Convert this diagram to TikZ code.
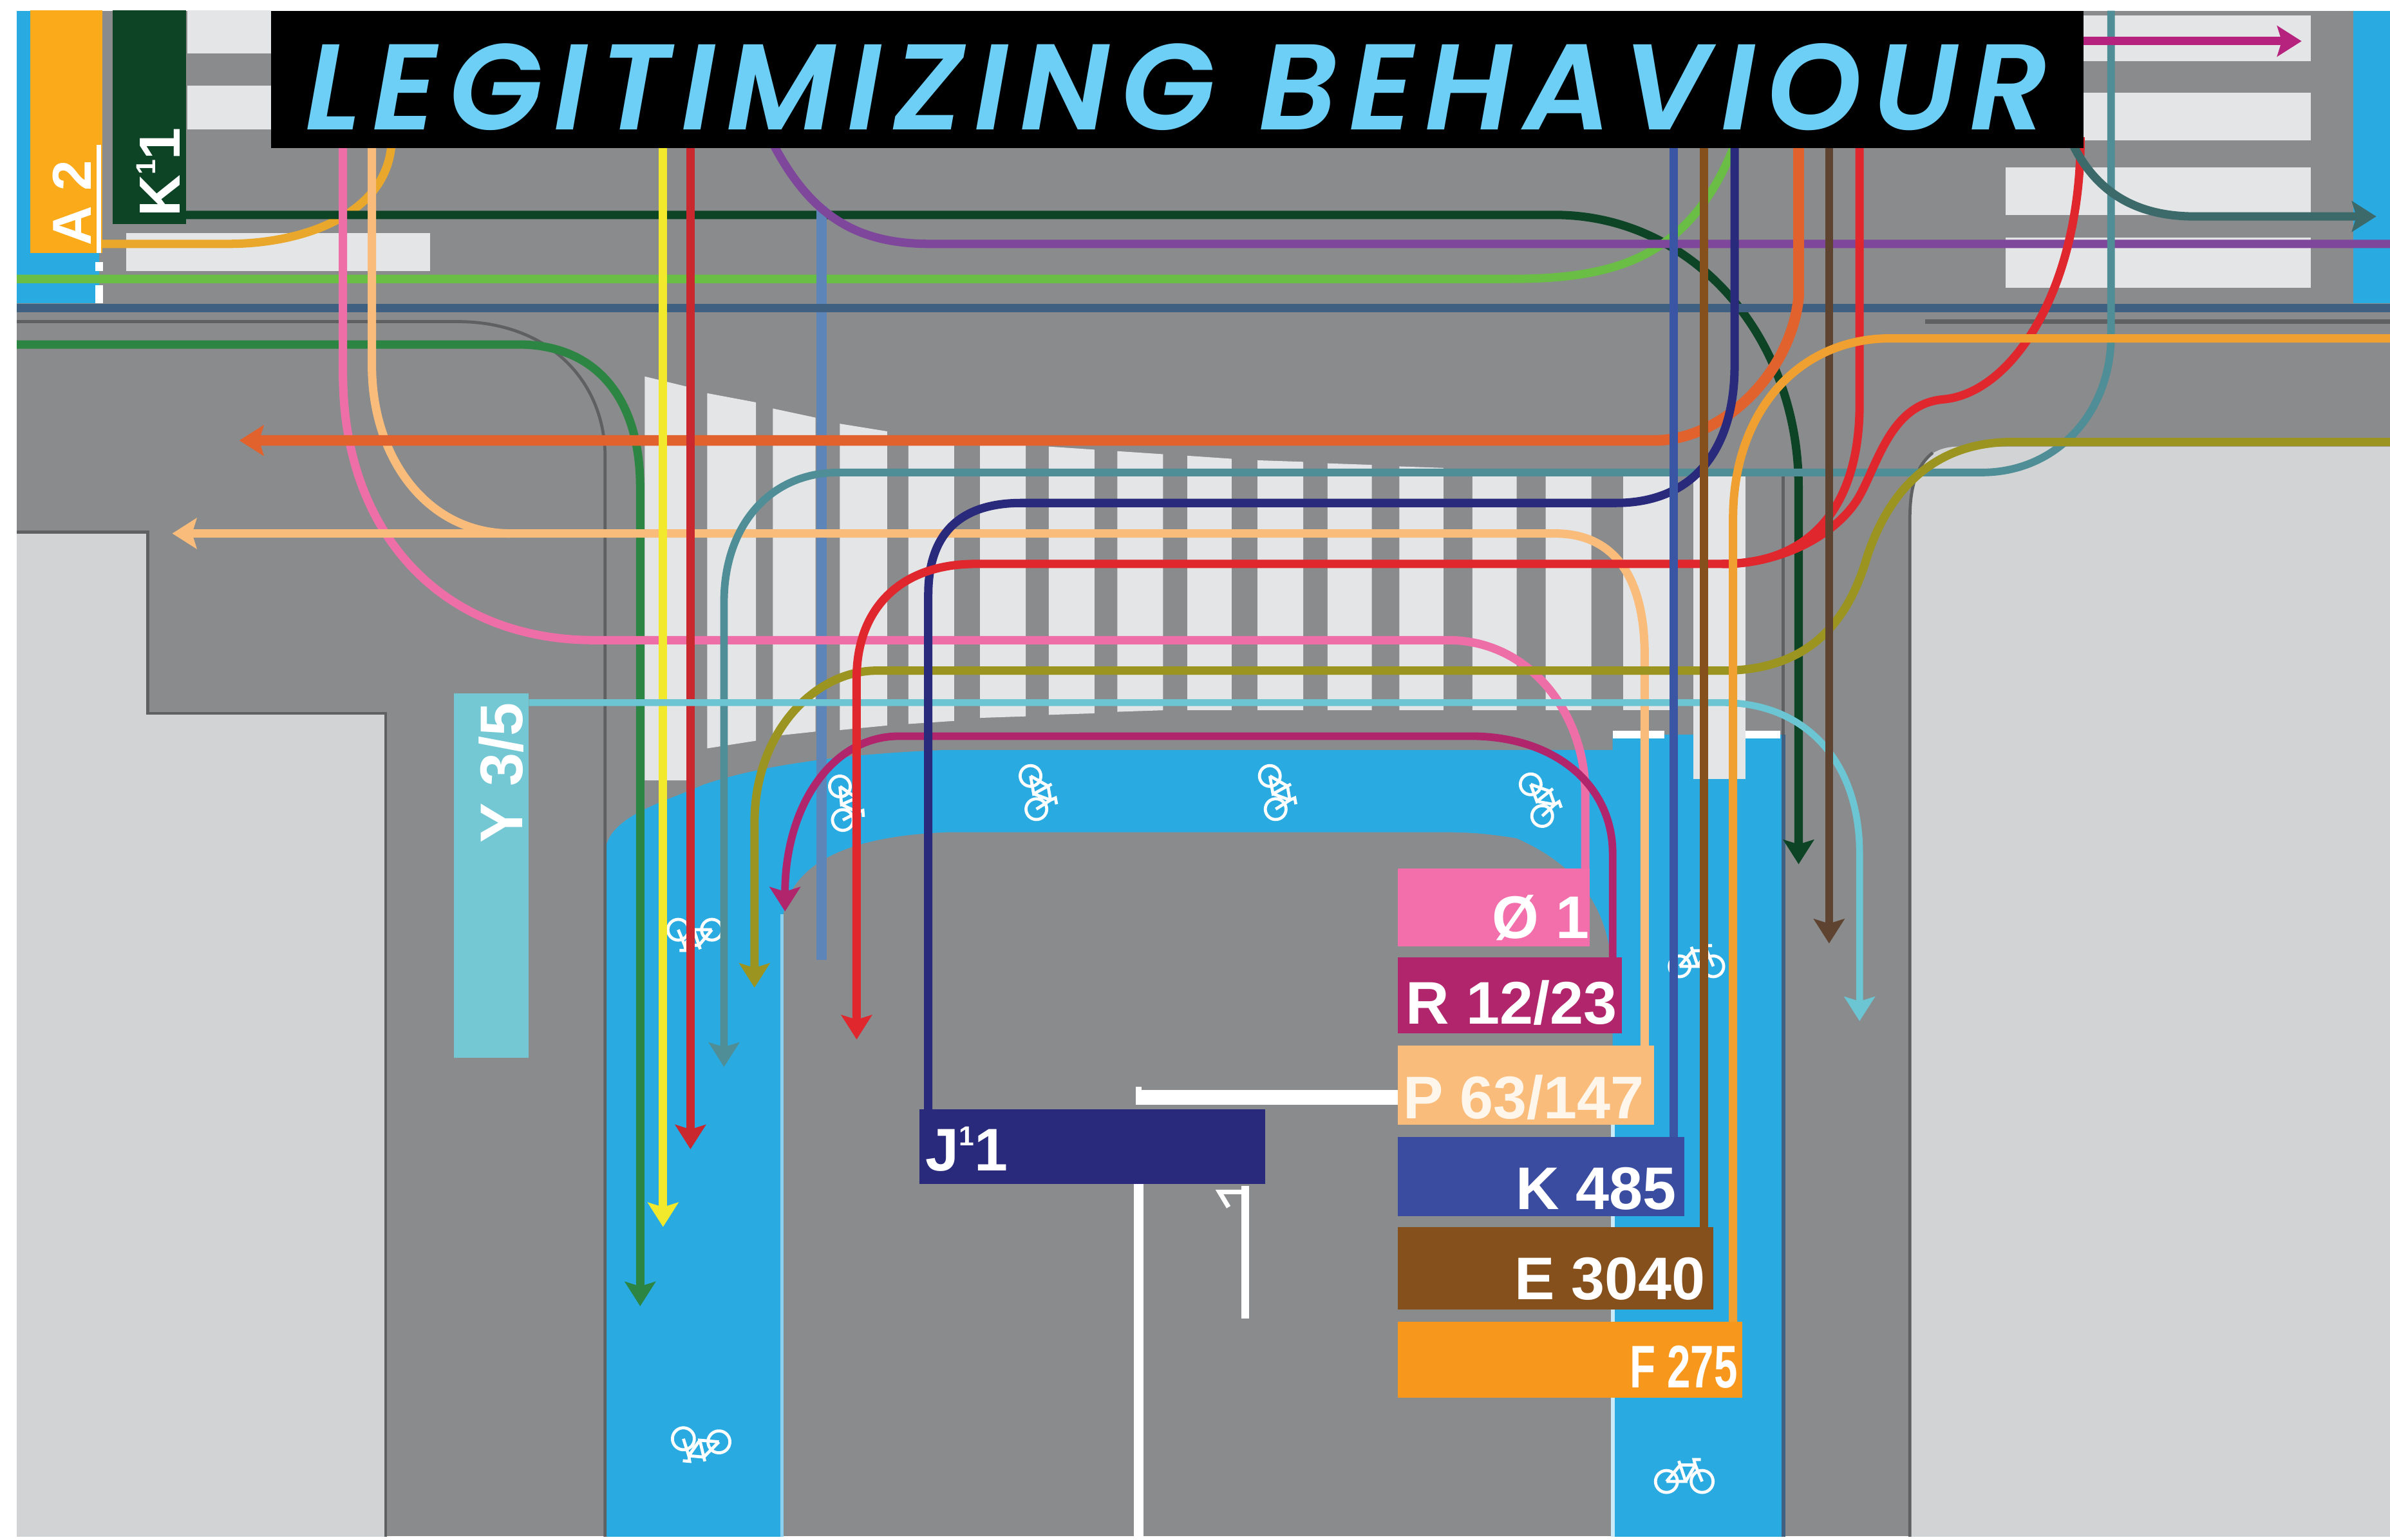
\documentclass[tikz,border=0pt]{standalone}
\usepackage{fontspec}
\setmainfont{Liberation Sans}
\newfontfamily\titlefont[LetterSpace=9.4]{Poppins SemiBold Italic}
\usetikzlibrary{arrows.meta}
\definecolor{roadgray}{HTML}{898B8D}
\definecolor{blockgray}{HTML}{D1D3D4}
\definecolor{stripe}{HTML}{E4E5E7}
\definecolor{lane}{HTML}{29ABE2}
\definecolor{edge}{HTML}{5F6062}
\definecolor{cpink}{HTML}{EE6FA8}
\definecolor{cmag}{HTML}{B0256B}
\definecolor{ctan}{HTML}{F9BC7A}
\definecolor{cblue}{HTML}{3A55A4}
\definecolor{cbrown}{HTML}{85501C}
\definecolor{corange}{HTML}{F0A030}
\definecolor{cnavy}{HTML}{2A2A7C}
\definecolor{cdark}{HTML}{0D4426}
\definecolor{cgold}{HTML}{E9A82C}
\definecolor{clime}{HTML}{6ABD45}
\definecolor{csteel}{HTML}{3F6080}
\definecolor{cgreen}{HTML}{2C8542}
\definecolor{cyellow}{HTML}{F2E82C}
\definecolor{cred}{HTML}{C8282E}
\definecolor{cbright}{HTML}{E0272E}
\definecolor{cperi}{HTML}{5E85B8}
\definecolor{cpurple}{HTML}{7F479B}
\definecolor{coran}{HTML}{E2622E}
\definecolor{cteal}{HTML}{4F8E96}
\definecolor{colive}{HTML}{9C9420}
\definecolor{ccyan}{HTML}{6CC5D2}
\definecolor{cdbrown}{HTML}{5E4430}
\definecolor{cdteal}{HTML}{3C6A6A}
\definecolor{cvio}{HTML}{B5237F}
\definecolor{ctitle}{HTML}{6DCFF6}
\definecolor{labelF}{HTML}{F7981D}
\definecolor{labelA}{HTML}{FBAA19}
\definecolor{labelO}{HTML}{F36FAC}
\definecolor{labelK}{HTML}{3A4CA0}
\tikzset{
  x=1pt,y=-1pt,
  route/.style={line width=5.5pt,line cap=butt},
  tip/.style={-{Stealth[length=16pt,width=20pt,inset=3pt]}},
  tag/.style={anchor=center,inner sep=0pt,text=white,font=\fontsize{39.5}{39.5}\selectfont\bfseries},
  barfill/.style={fill=stripe,draw=none},
  bike/.pic={
    \draw[white,line width=2pt]
      (-13pt,0pt) circle (8pt) (13pt,0pt) circle (8pt)
      (-13pt,0pt) -- (-3pt,12pt) -- (8pt,12pt) -- (13pt,0pt)
      (-3pt,12pt) -- (1pt,0pt) -- (-13pt,0pt) (8pt,12pt) -- (1pt,0pt)
      (8pt,12pt) -- (7pt,16pt) -- (12pt,16pt) (-3pt,12pt) -- (-4pt,15pt);
  }
}
\begin{document}
\begin{tikzpicture}
\useasboundingbox (0,0) rectangle (1568,1010.4);
\fill[white] (0,0) rectangle (1568,1010.4);
\begin{scope}
\clip (11,7) rectangle (1568,1008);
\fill[roadgray] (11,7) rectangle (1568,1008);
% blocks
\fill[blockgray] (11,349) -- (97,349) -- (97,468) -- (253,468) -- (253,1010) -- (11,1010) -- cycle;
\draw[edge,line width=2pt] (11,349) -- (97,349) -- (97,468) -- (253,468) -- (253,1010);
\fill[blockgray] (1253,1010) -- (1253,340) .. controls (1253,310) and (1262,293) .. (1285,293) -- (1570,293) -- (1570,1010) -- cycle;
\draw[edge,line width=2pt] (1253,1010) -- (1253,340) .. controls (1253,318) and (1258,305) .. (1268,297);
% cycle lane
\fill[lane] (397,1012) -- (397,560) .. controls (397,535) and (440,525) .. (461,515) .. controls (490,505) and (540,495) .. (622,492) -- (1058,492) -- (1058,482) -- (1170,482) -- (1170,1012) -- (1058,1012) -- (1058,640) .. controls (1056,600) and (1040,570) .. (995,550) .. controls (970,546) and (960,546) .. (940,546) -- (622,546) .. controls (570,548) and (513,560) .. (513,610) -- (513,1012) -- cycle;
\fill[lane] (11,7) rectangle (20,199);
\fill[lane] (11,166) rectangle (65,199);
\fill[lane] (1544,7) rectangle (1570,199);
\draw[line width=2pt,edge] (397,1012) -- (397,300) .. controls (397,250) and (360,211) .. (300,211) -- (11,211);
\draw[line width=2.5pt,color=edge] (11,211) -- (300,211);
\draw[line width=3pt,color=edge] (1263,211) -- (1570,211);
\draw[line width=2.5pt,color=csteel] (1170,482) -- (1170,1012);
\draw[line width=2pt,color=edge] (1170,310) -- (1170,482);
\draw[line width=2.5pt,color=lane!55!white] (513,600) -- (513,1012);
\draw[line width=2.5pt,color=lane!25!white] (1058,690) -- (1058,1012);
% crossing bars top-left and top-right
\fill[barfill] (123,6) rectangle (178,35);
\fill[barfill] (123,56) rectangle (178,85);
\fill[barfill] (83,153) rectangle (282,178);
\fill[barfill] (1367,10) rectangle (1516,40);
\fill[barfill] (1367,61) rectangle (1516,92);
\fill[barfill] (1316,110) rectangle (1516,141);
\fill[barfill] (1316,156) rectangle (1516,189);
% zebra stripes
\fill[barfill] (423,247) -- (452,254) -- (452,512) -- (423,512) -- cycle;
\fill[barfill] (464,258) -- (496,264) -- (496,486) -- (464,491) -- cycle;
\fill[barfill] (507,268) -- (535,274) -- (535,480) -- (507,483) -- cycle;
\fill[barfill] (551,278) -- (582,283) -- (582,476) -- (551,479) -- cycle;
\fill[barfill] (596,286) -- (626,288) -- (626,473) -- (596,475) -- cycle;
\fill[barfill] (643,290) -- (673,292) -- (673,470) -- (643,471) -- cycle;
\fill[barfill] (688,293) -- (718,295) -- (718,468) -- (688,469) -- cycle;
\fill[barfill] (733,296) -- (763,298) -- (763,466) -- (733,467) -- cycle;
\fill[barfill] (779,299) -- (808,301) -- (808,466) -- (779,466) -- cycle;
\fill[barfill] (825,302) -- (855,303) -- (855,466) -- (825,466) -- cycle;
\fill[barfill] (871,304) -- (900,305) -- (900,466) -- (871,466) -- cycle;
\fill[barfill] (918,306) -- (947,307) -- (947,466) -- (918,466) -- cycle;
\fill[barfill] (966,308) -- (995,310) -- (995,466) -- (966,466) -- cycle;
\fill[barfill] (1014,311) -- (1044,312) -- (1044,466) -- (1014,466) -- cycle;
\fill[barfill] (1065,312) rectangle (1096,466);
\fill[barfill] (1111,312) rectangle (1145,511);
% white markings
\draw[white,line width=5pt] (1058,482) -- (1092,482) (1145,482) -- (1168,482);
\draw[white,line width=6pt] (747,777) -- (747,1012);
\draw[white,line width=10pt] (745,720) -- (917,720);
\draw[white,line width=4pt] (747,713) -- (747,722);
\draw[white,line width=5pt] (817,778) -- (817,865);
\draw[white,line width=3pt] (817,782) -- (800,782) -- (806,792);
\draw[white,line width=5pt] (65,172) -- (65,178) (65,187) -- (65,199);
% bikes
\path (678,520) pic[rotate=-80,scale=.85] {bike};
\path (835,520) pic[rotate=-80,scale=.85] {bike};
\path (1008,525) pic[rotate=-70,scale=.85] {bike};
\path (552,527) pic[rotate=-85,scale=.85] {bike};
\path (456,610) pic[rotate=180,scale=.85] {bike};
\path (1113,634) pic[scale=.85] {bike};
\path (460,945) pic[rotate=175,scale=.9] {bike};
\path (1105,972) pic[scale=.9] {bike};
% routes
\draw[route,cgold] (67,160) -- (150,160) to[out=0,in=270] (257,90);
\draw[route,cdark] (122,141) -- (1020,141) .. controls (1110,141) and (1180,220) .. (1180,320) [tip] -- (1180,567);
\draw[route,clime] (11,183) -- (990,183) .. controls (1060,183) and (1110,170) .. (1140,90);
\draw[route,cgreen] (11,226) -- (340,226) .. controls (390,226) and (420,260) .. (420,320) [tip] -- (420,857);
\draw[route,cperi,line width=7pt] (539,135) -- (539,630);
\draw[route,cpurple] (505,90) .. controls (530,140) and (560,160) .. (610,160) -- (1570,160);
\draw[route,csteel] (11,202) -- (1570,202);
\draw[route,cpink] (225,90) -- (225,245) .. controls (225,350) and (290,420) .. (390,420) -- (950,420) .. controls (1005,420) and (1040,470) .. (1040,520) -- (1040,572);
\draw[route,ctan] (244,90) -- (244,240) .. controls (244,300) and (280,350) .. (335,350);
\draw[route,ctan,tip] (1079,688) -- (1079,430) .. controls (1079,380) and (1060,350) .. (1020,350) -- (113,350);
\draw[route,coran,line width=7pt,tip] (1180,90) -- (1180,195) .. controls (1175,245) and (1130,289) .. (1085,289) -- (157,289);
\draw[route,cyellow,tip] (435,90) -- (435,805);
\draw[route,cred,tip] (453,90) -- (453,754);
\draw[route,cteal,tip,line width=5pt] (1385,7) -- (1385,220) .. controls (1385,270) and (1350,310) .. (1300,310) -- (550,310) .. controls (505,310) and (475,345) .. (475,395) -- (475,700);
\draw[route,colive,tip] (1570,290) -- (1320,290) .. controls (1270,290) and (1240,320) .. (1225,365) .. controls (1212,410) and (1185,440) .. (1130,440) -- (575,440) .. controls (535,440) and (495,480) .. (495,540) -- (495,648);
\draw[route,cmag,tip,line width=5pt] (1058,630) -- (1058,560) .. controls (1058,515) and (1020,483) .. (965,483) -- (590,483) .. controls (545,483) and (515,530) .. (515,598);
\draw[route,ccyan,tip,line width=4.5pt] (347,461) -- (1130,461) .. controls (1185,461) and (1220,500) .. (1220,560) -- (1220,670);
\draw[route,cnavy] (609,730) -- (609,390) .. controls (609,350) and (630,330) .. (670,330) -- (1060,330) .. controls (1115,330) and (1138,290) .. (1138,240) -- (1138,90);
\draw[route,cbright,tip] (1220,90) -- (1220,265) .. controls (1220,330) and (1190,370) .. (1130,370) -- (640,370) .. controls (590,370) and (562,400) .. (562,445) -- (562,682);
\draw[route,cbright] (1130,370) .. controls (1170,370) and (1205,350) .. (1219,327) .. controls (1232,305) and (1240,265) .. (1275,262) .. controls (1320,258) and (1365,190) .. (1365,90);
\draw[route,cdbrown,tip,line width=5pt] (1200,90) -- (1200,619);
\draw[route,cblue] (1098,90) -- (1098,748);
\draw[route,cbrown] (1118,90) -- (1118,807);
\draw[route,corange] (1137,869) -- (1137,340) .. controls (1137,270) and (1180,222) .. (1240,222) -- (1570,222);
\draw[route,cvio,tip] (1360,27) -- (1510,27);
\draw[route,cdteal,tip] (1360,95) .. controls (1375,125) and (1400,142) .. (1440,142) -- (1559,142);
% labels
\node[fill=ccyan!95!white,minimum width=239pt,minimum height=49pt,inner sep=0pt,rotate=90] (yband) at (322.5,574.5) {};
\node[tag,rotate=90,text=white] (ytext) at (329,507) {Y 3/5};
\fill[labelA] (20,6) rectangle (67,166);
\draw[white,line width=3pt] (65,95) -- (65,166);
\node[tag,rotate=90,font=\fontsize{36}{36}\selectfont\bfseries] (atext) at (47,133) {A 2};
\fill[cdark] (74,6) rectangle (122,147);
\node[tag,rotate=90,font=\fontsize{38}{38}\selectfont\bfseries] (ktext) at (104,113) {K\raisebox{.42em}{\fontsize{18}{18}\selectfont 1}1};
\fill[labelO] (917,570) rectangle (1043,621);
\node[tag,anchor=east] (o1) at (1043,602) {Ø 1};
\fill[cmag] (917,628) rectangle (1064,678);
\node[tag,anchor=east] (r1) at (1061,658) {R 12/23};
\fill[ctan] (917,686) rectangle (1085,738);
\node[tag,anchor=east,text=white!85!ctan] (p1) at (1079,720) {P 63/147};
\fill[labelK] (917,746) rectangle (1105,798);
\node[tag,anchor=east] (k1) at (1100,780) {K 485};
\fill[cbrown] (917,805) rectangle (1124,859);
\node[tag,anchor=east] (e1) at (1119,839) {E 3040};
\fill[labelF] (917,867) rectangle (1143,917);
\node[tag,anchor=east,xscale=.7] (f1) at (1140,897) {F 275};
\fill[cnavy] (603,728) rectangle (830,777);
\node[tag,anchor=west] (j1) at (607,754) {J\raisebox{.42em}{\fontsize{18}{18}\selectfont 1}1};
% title
\fill[black] (178,7) rectangle (1367,97);
\node[inner sep=0pt,text=ctitle,font=\titlefont\fontsize{80}{80}\selectfont] (title) at (772,57) {LEGITIMIZING BEHAVIOUR};
\end{scope}
\end{tikzpicture}
\end{document}
